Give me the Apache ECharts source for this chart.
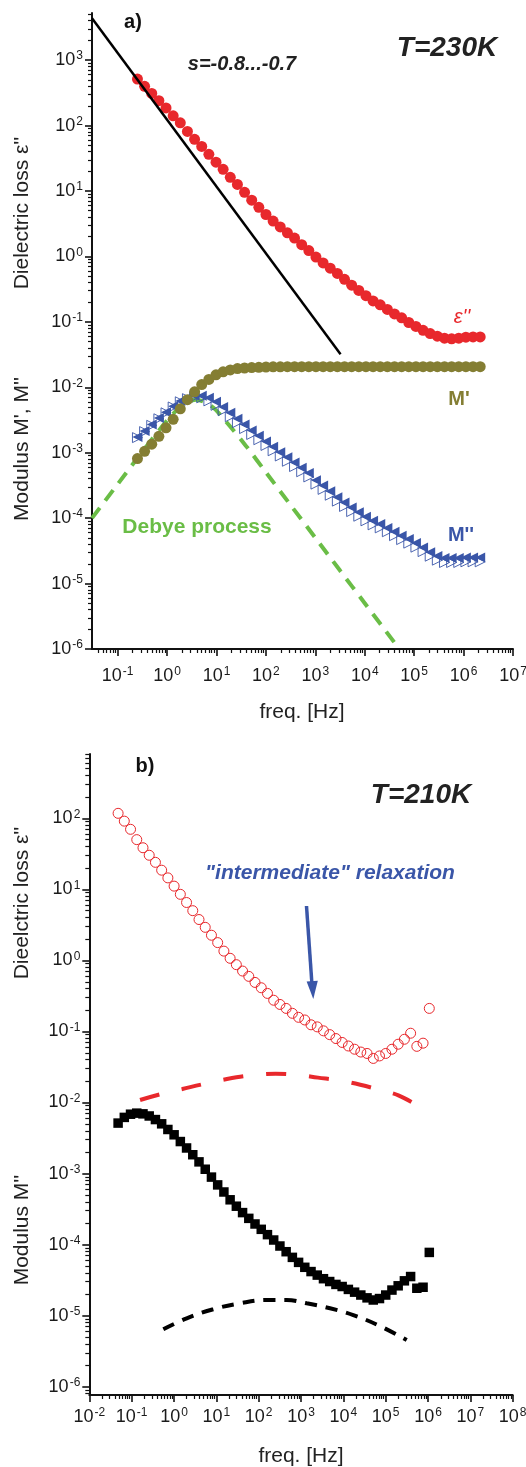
<!DOCTYPE html>
<html><head><meta charset="utf-8">
<script src="https://cdn.jsdelivr.net/npm/echarts@6/dist/echarts.min.js"></script>
<style>html,body{margin:0;padding:0;background:#fff}#c{width:526px;height:1467px}</style>
</head><body><div id="c"></div>
<script>
// ---------------- panel a : T = 230 K ----------------
const freqA = [0.2512, 0.3503, 0.4887, 0.6817, 0.9506, 1.326, 1.849, 2.579, 3.597, 5.017,
  6.998, 9.761, 13.61, 18.99, 26.49, 36.94, 51.52, 71.86, 100.2, 139.8,
  195.0, 271.9, 379.3, 529.0, 738.0, 1029, 1435, 2002, 2793, 3895,
  5433, 7578, 10570, 14740, 20560, 28680, 40000, 55800, 77800, 108500,
  151400, 211100, 294400, 410700, 572800, 798900, 1114000, 1554000, 2168000];
const epsLossA = [513, 398, 309, 240, 186, 141, 110, 81.3, 61.7, 47.9,
  36.3, 27.5, 21.4, 16.2, 12.6, 9.55, 7.24, 5.62, 4.37, 3.47,
  2.82, 2.29, 1.91, 1.51, 1.23, 0.977, 0.794, 0.661, 0.550, 0.447,
  0.363, 0.302, 0.251, 0.209, 0.182, 0.155, 0.132, 0.115, 0.0977, 0.0851,
  0.0741, 0.0661, 0.0603, 0.0562, 0.0550, 0.0562, 0.0582, 0.0589, 0.0589];
const mPrimeA = [8.13e-4, 1.05e-3, 1.35e-3, 1.78e-3, 2.40e-3, 3.24e-3, 4.68e-3, 6.46e-3, 8.51e-3, 0.0110,
  0.0132, 0.0155, 0.0172, 0.0184, 0.0193, 0.0197, 0.0200, 0.0202, 0.0204, 0.0205,
  0.0205, 0.0206, 0.0206, 0.0206, 0.0206, 0.0206, 0.0206, 0.0206, 0.0206, 0.0206,
  0.0206, 0.0206, 0.0206, 0.0206, 0.0206, 0.0206, 0.0206, 0.0206, 0.0206, 0.0206,
  0.0206, 0.0206, 0.0206, 0.0206, 0.0206, 0.0206, 0.0206, 0.0206, 0.0206];
const mDoublePrimeA = [1.74e-3, 2.14e-3, 2.69e-3, 3.39e-3, 4.17e-3, 5.13e-3, 6.17e-3, 6.92e-3, 7.41e-3, 7.41e-3,
  6.92e-3, 6.03e-3, 5.01e-3, 4.07e-3, 3.31e-3, 2.69e-3, 2.19e-3, 1.82e-3, 1.48e-3, 1.23e-3,
  1.02e-3, 8.51e-4, 7.08e-4, 5.89e-4, 4.90e-4, 3.80e-4, 3.16e-4, 2.57e-4, 2.09e-4, 1.74e-4,
  1.45e-4, 1.23e-4, 1.05e-4, 9.12e-5, 8.13e-5, 7.08e-5, 6.17e-5, 5.37e-5, 4.79e-5, 4.17e-5,
  3.55e-5, 3.02e-5, 2.63e-5, 2.45e-5, 2.45e-5, 2.45e-5, 2.51e-5, 2.51e-5, 2.51e-5];
const mDoublePrimeOpenA = [1.70e-3, 2.10e-3, 2.62e-3, 3.30e-3, 4.07e-3, 5.0e-3, 6.0e-3, 6.7e-3, 7.1e-3, 6.9e-3,
  6.2e-3, 5.3e-3, 4.4e-3, 3.55e-3, 2.88e-3, 2.34e-3, 1.90e-3, 1.58e-3, 1.29e-3, 1.07e-3,
  8.9e-4, 7.4e-4, 6.15e-4, 5.12e-4, 4.26e-4, 3.31e-4, 2.75e-4, 2.24e-4, 1.82e-4, 1.51e-4,
  1.26e-4, 1.07e-4, 9.1e-5, 7.9e-5, 7.1e-5, 6.2e-5, 5.4e-5, 4.7e-5, 4.15e-5, 3.6e-5,
  3.08e-5, 2.62e-5, 2.28e-5, 2.1e-5, 2.1e-5, 2.1e-5, 2.15e-5, 2.15e-5, 2.15e-5];
const slopeLineFreq = [0.0302, 3240];
const slopeLineVal = [4365, 0.032];
const debyeFreq = [0.0302, 0.1, 0.316, 1.0, 2.0, 3.89, 7.94, 15.8, 39.8, 100, 316, 1000, 3162, 10000, 50100];
const debyeVal = [1.0e-4, 3.31e-4, 1.04e-3, 3.10e-3, 5.25e-3, 6.46e-3, 5.13e-3, 2.95e-3, 1.26e-3, 5.01e-4, 1.58e-4, 5.01e-5, 1.58e-5, 5.01e-6, 1.0e-6];
const xDecadesA = [-1, 0, 1, 2, 3, 4, 5, 6, 7];
const yDecadesA = [-6, -5, -4, -3, -2, -1, 0, 1, 2, 3];

// ---------------- panel b : T = 210 K ----------------
const freqB = [0.0479, 0.0671, 0.0942, 0.1321, 0.1854, 0.2600, 0.3648, 0.5117, 0.7178, 1.007,
  1.413, 1.982, 2.780, 3.899, 5.470, 7.674, 10.76, 15.10, 21.18, 29.72,
  41.69, 58.48, 82.04, 115.1, 161.4, 226.5, 317.7, 445.7, 625.2, 877.0,
  1230, 1726, 2421, 3396, 4764, 6683, 9376, 13150, 18450, 25880,
  36310, 50930, 71450, 100200, 140600, 197200, 276700, 388100, 544500, 763800, 1072000];
const epsLossB = [117.5, 91.2, 70.0, 50.1, 38.5, 30.2, 24.0, 18.6, 14.5, 11.1,
  8.51, 6.53, 5.01, 3.76, 2.92, 2.26, 1.78, 1.35, 1.07, 0.871,
  0.708, 0.596, 0.490, 0.412, 0.343, 0.275, 0.240, 0.211, 0.180, 0.158,
  0.145, 0.124, 0.116, 0.102, 0.0902, 0.0794, 0.0700, 0.0624, 0.0562, 0.0513,
  0.0490, 0.0417, 0.0452, 0.0490, 0.0562, 0.0661, 0.0776, 0.0944, 0.0617, 0.0684, 0.211];
const mDoublePrimeB = [5.13e-3, 6.17e-3, 6.84e-3, 7.08e-3, 6.92e-3, 6.46e-3, 5.75e-3, 5.01e-3, 4.17e-3, 3.51e-3,
  2.82e-3, 2.29e-3, 1.84e-3, 1.46e-3, 1.15e-3, 8.91e-4, 6.92e-4, 5.50e-4, 4.27e-4, 3.47e-4,
  2.82e-4, 2.34e-4, 1.95e-4, 1.64e-4, 1.38e-4, 1.16e-4, 9.55e-5, 7.94e-5, 6.61e-5, 5.62e-5,
  4.79e-5, 4.17e-5, 3.72e-5, 3.31e-5, 3.02e-5, 2.75e-5, 2.57e-5, 2.34e-5, 2.14e-5, 1.95e-5,
  1.78e-5, 1.66e-5, 1.74e-5, 1.95e-5, 2.29e-5, 2.63e-5, 3.09e-5, 3.55e-5, 2.43e-5, 2.51e-5, 7.76e-5];
const epsFitFreqB = [0.158, 0.501, 1.585, 5.01, 17.8, 63.1, 251, 794, 2512, 7943, 25120, 79430, 199500, 537000];
const epsFitValB = [0.01084, 0.01318, 0.01549, 0.01820, 0.02138, 0.02399, 0.02541, 0.02455, 0.02239, 0.02042, 0.01778, 0.01479, 0.01259, 0.00923];
const mFitFreqB = [0.56, 2.0, 8.49, 36.3, 155, 459, 1365, 4842, 17180, 73450, 314100];
const mFitValB = [6.43e-6, 9.18e-6, 1.23e-5, 1.49e-5, 1.66e-5, 1.66e-5, 1.49e-5, 1.27e-5, 1.02e-5, 7.14e-6, 4.54e-6];
const xDecadesB = [-2, -1, 0, 1, 2, 3, 4, 5, 6, 7, 8];
const yDecadesB = [-6, -5, -4, -3, -2, -1, 0, 1, 2];

// ---------------- helpers ----------------
const F = '"Liberation Sans", Arial, sans-serif';
const L = Math.log10;
const pts = (fs, vs) => fs.map((f, i) => [L(f), L(vs[i])]);
function minors(decades, lo, hi) {
  const out = [];
  for (let n = decades[0] - 1; n <= decades[decades.length - 1]; n++) {
    for (let k = 2; k <= 9; k++) { const v = n + L(k); if (v > lo && v < hi) out.push(v); }
  }
  return out;
}
const sup = v => '{b|10}{s|' + v + '}';
const rich = {
  b: { fontSize: 18, fontFamily: F, color: '#1a1a1a', lineHeight: 20 },
  s: { fontSize: 12, fontFamily: F, color: '#1a1a1a', verticalAlign: 'top', lineHeight: 20, padding: [0, 0, 0, 1] }
};
const AX = '#111';
function majorAxis(grid, min, max, ticks, pos, margin) {
  return {
    gridIndex: grid, type: 'value', min: min, max: max, position: pos,
    axisLine: { show: true, onZero: false, lineStyle: { color: AX, width: 2 } },
    axisTick: { show: true, inside: false, length: 7, customValues: ticks, lineStyle: { color: AX, width: 1.6 } },
    axisLabel: { show: true, customValues: ticks, formatter: sup, rich: rich, margin: margin },
    splitLine: { show: false }, minorTick: { show: false }
  };
}
function minorAxis(grid, min, max, ticks, pos) {
  return {
    gridIndex: grid, type: 'value', min: min, max: max, position: pos,
    axisLine: { show: false, onZero: false },
    axisTick: { show: true, inside: false, length: 4, customValues: ticks, lineStyle: { color: AX, width: 1.2 } },
    axisLabel: { show: false }, splitLine: { show: false }
  };
}
const xA = [-1.52, 7], yA = [-6, 3.72];
const xB = [-2, 8], yB = [-6.117, 2.905];

const RED = '#e8282c', BLUE = '#3a56a8', OLIVE = '#847e33', GREEN = '#6abd46';

function txt(x, y, text, font, fill, rot) {
  return { type: 'text', x: x, y: y, rotation: rot || 0, z: 100,
    style: { text: text, font: font, fill: fill, align: 'center', verticalAlign: 'middle', textAlign: 'center', textVerticalAlign: 'middle' } };
}

const chart = echarts.init(document.getElementById('c'), null, { renderer: 'canvas' });
chart.setOption({
  animation: false,
  backgroundColor: '#fff',
  grid: [
    { left: 92, top: 13, width: 421, height: 636, containLabel: false, outerBoundsMode: 'none' },
    { left: 89.3, top: 754, width: 423.4, height: 641, containLabel: false, outerBoundsMode: 'none' }
  ],
  xAxis: [
    majorAxis(0, xA[0], xA[1], xDecadesA, 'bottom', 17),
    minorAxis(0, xA[0], xA[1], minors(xDecadesA, xA[0], xA[1]), 'bottom'),
    majorAxis(1, xB[0], xB[1], xDecadesB, 'bottom', 12),
    minorAxis(1, xB[0], xB[1], minors(xDecadesB, xB[0], xB[1]), 'bottom')
  ],
  yAxis: [
    majorAxis(0, yA[0], yA[1], yDecadesA, 'left', 9),
    minorAxis(0, yA[0], yA[1], minors(yDecadesA, yA[0], yA[1]), 'left'),
    majorAxis(1, yB[0], yB[1], yDecadesB, 'left', 9),
    minorAxis(1, yB[0], yB[1], minors(yDecadesB, yB[0], yB[1]), 'left')
  ],
  series: [
    // panel a
    { type: 'line', xAxisIndex: 0, yAxisIndex: 0, data: pts(debyeFreq, debyeVal), showSymbol: false, smooth: 0.3,
      lineStyle: { color: GREEN, width: 4, type: [13, 9] }, z: 2 },
    { type: 'scatter', xAxisIndex: 0, yAxisIndex: 0, data: pts(freqA, mDoublePrimeOpenA), symbol: 'triangle', symbolRotate: -90, symbolSize: 10,
      itemStyle: { color: 'rgba(255,255,255,0)', borderColor: BLUE, borderWidth: 0.9, opacity: 1 }, z: 3 },
    { type: 'scatter', xAxisIndex: 0, yAxisIndex: 0, data: pts(freqA, mDoublePrimeA), symbol: 'triangle', symbolRotate: 90, symbolSize: 10,
      itemStyle: { color: BLUE, opacity: 1 }, z: 4 },
    { type: 'scatter', xAxisIndex: 0, yAxisIndex: 0, data: pts(freqA, mPrimeA), symbol: 'circle', symbolSize: 11,
      itemStyle: { color: OLIVE, opacity: 1 }, z: 5 },
    { type: 'scatter', xAxisIndex: 0, yAxisIndex: 0, data: pts(freqA, epsLossA), symbol: 'circle', symbolSize: 11,
      itemStyle: { color: RED, opacity: 1 }, z: 6 },
    { type: 'line', xAxisIndex: 0, yAxisIndex: 0, data: pts(slopeLineFreq, slopeLineVal), showSymbol: false,
      lineStyle: { color: '#000', width: 2.5 }, z: 7 },
    // panel b
    { type: 'line', xAxisIndex: 2, yAxisIndex: 2, data: pts(epsFitFreqB, epsFitValB), showSymbol: false, smooth: 0.4,
      lineStyle: { color: RED, width: 4, type: [20, 23] }, z: 2 },
    { type: 'line', xAxisIndex: 2, yAxisIndex: 2, data: pts(mFitFreqB, mFitValB), showSymbol: false, smooth: 0.4,
      lineStyle: { color: '#000', width: 4, type: [12, 9] }, z: 2 },
    { type: 'scatter', xAxisIndex: 2, yAxisIndex: 2, data: pts(freqB, epsLossB), symbol: 'circle', symbolSize: 10,
      itemStyle: { color: 'rgba(255,255,255,0)', borderColor: RED, borderWidth: 1, opacity: 1 }, z: 3 },
    { type: 'scatter', xAxisIndex: 2, yAxisIndex: 2, data: pts(freqB, mDoublePrimeB), symbol: 'rect', symbolSize: 9.5,
      itemStyle: { color: '#000', opacity: 1 }, z: 4 }
  ],
  graphic: [
    // panel a texts
    txt(22, 213, "Dielectric loss \u03b5''", '21px ' + F, '#222', Math.PI / 2),
    txt(22, 449, "Modulus M', M''", '21px ' + F, '#222', Math.PI / 2),
    txt(302, 712, 'freq. [Hz]', '21px ' + F, '#222'),
    txt(133, 22, 'a)', 'bold 20px ' + F, '#111'),
    txt(242, 64, 's=-0.8...-0.7', 'italic bold 20px ' + F, '#222'),
    txt(447, 48, 'T=230K', 'italic bold 28px ' + F, '#222'),
    txt(462, 317, "\u03b5''", 'italic 20px ' + F, RED),
    txt(459, 399, "M'", 'bold 20px ' + F, OLIVE),
    txt(461, 535, "M''", 'bold 20px ' + F, BLUE),
    txt(197, 527, 'Debye process', 'bold 21px ' + F, GREEN),
    // panel b texts
    txt(22, 903, "Dieelctric loss \u03b5''", '21px ' + F, '#222', Math.PI / 2),
    txt(22, 1230, "Modulus M''", '21px ' + F, '#222', Math.PI / 2),
    txt(301, 1456, 'freq. [Hz]', '21px ' + F, '#222'),
    txt(145, 766, 'b)', 'bold 20px ' + F, '#111'),
    txt(421, 795, 'T=210K', 'italic bold 28px ' + F, '#222'),
    txt(330, 873, '"intermediate" relaxation', 'italic bold 21px ' + F, BLUE),
    { type: 'line', z: 100, shape: { x1: 306.5, y1: 906, x2: 311.8, y2: 982 }, style: { stroke: BLUE, lineWidth: 3.5 } },
    { type: 'polygon', z: 100, shape: { points: [[313.3, 999], [306.6, 981.5], [317.8, 980.8]] }, style: { fill: BLUE } }
  ]
});
</script>
</body></html>
